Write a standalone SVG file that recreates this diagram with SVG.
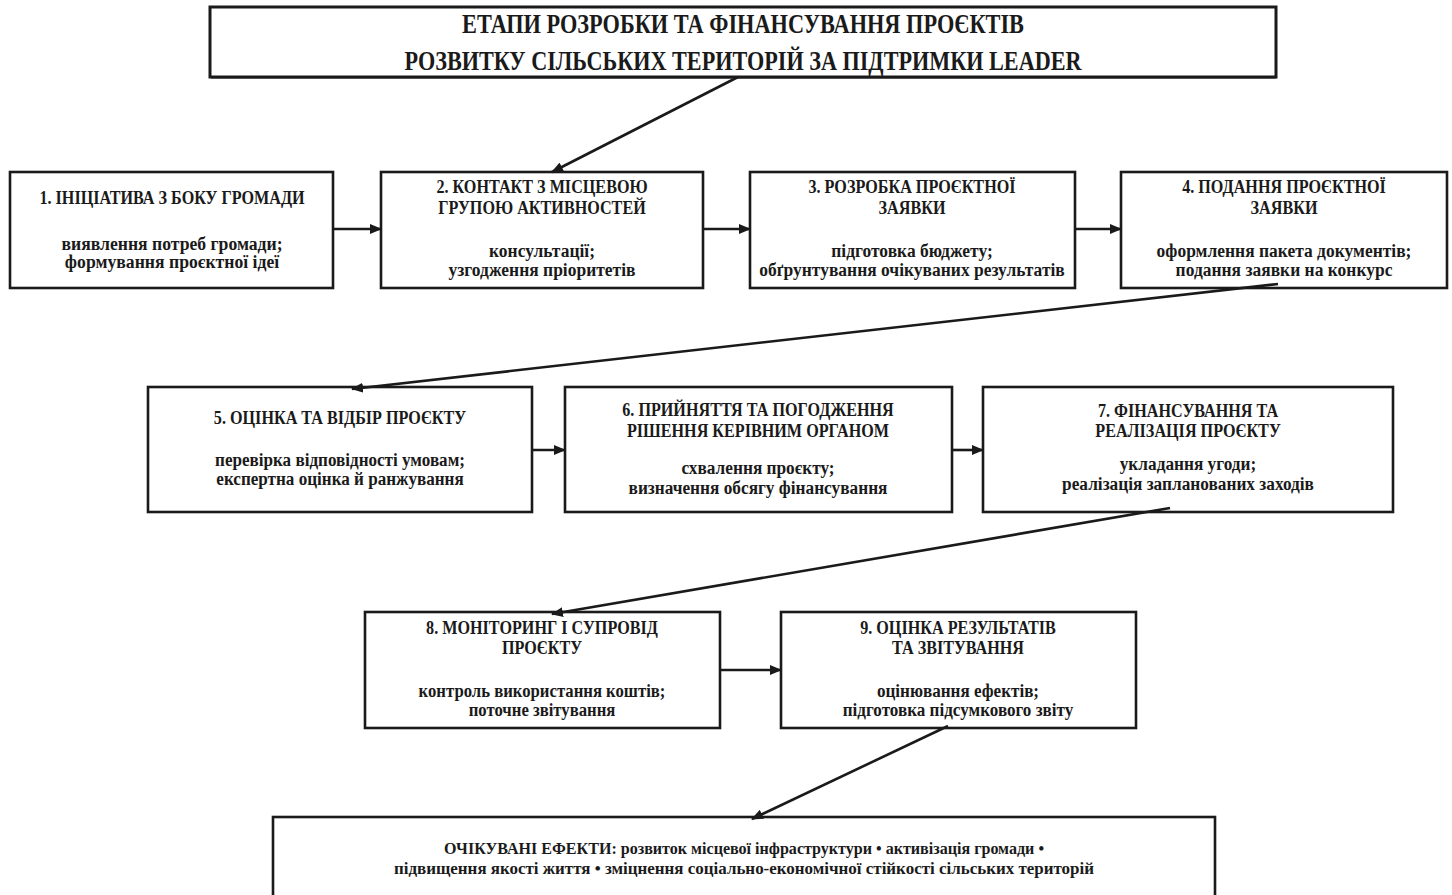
<svg xmlns="http://www.w3.org/2000/svg" width="1452" height="895" viewBox="0 0 1452 895">
<style>
text{font-family:"Liberation Serif","Times New Roman",serif;font-weight:bold;fill:#1a1a1a;text-anchor:middle}
.t{font-size:28px}
.h{font-size:19px}
.b{font-size:19px}
.e{font-size:17px}
.box{fill:#fff;stroke:#1a1a1a;stroke-width:2.6}
.c{stroke:#1a1a1a;stroke-width:2.6;fill:none}
</style>
<defs>
<marker id="ah" markerUnits="userSpaceOnUse" markerWidth="12" markerHeight="10" refX="11" refY="5" orient="auto">
<path d="M0,0 L12,5 L0,10 Z" fill="#1a1a1a"/>
</marker>
</defs>
<rect width="1452" height="895" fill="#fff"/>

<g id="title">
<rect class="box" x="210" y="7" width="1066" height="70" style="stroke-width:3"/>
<line x1="211" y1="77.5" x2="1276" y2="77.5" stroke="#1a1a1a" stroke-width="2"/>
<text class="t" x="743" y="33" textLength="562" lengthAdjust="spacingAndGlyphs">ЕТАПИ РОЗРОБКИ ТА ФІНАНСУВАННЯ ПРОЄКТІВ</text>
<text class="t" x="743" y="70" textLength="677" lengthAdjust="spacingAndGlyphs">РОЗВИТКУ СІЛЬСЬКИХ ТЕРИТОРІЙ ЗА ПІДТРИМКИ LEADER</text>
</g>

<g id="n1">
<rect class="box" x="10" y="172" width="323" height="116"/>
<text class="h" transform="translate(172,204) scale(0.85,1)">1. ІНІЦІАТИВА З БОКУ ГРОМАДИ</text>
<text class="b" transform="translate(172,250) scale(0.93,1)">виявлення потреб громади;</text>
<text class="b" transform="translate(172,268) scale(0.93,1)">формування проєктної ідеї</text>
</g>

<g id="n2">
<rect class="box" x="381" y="172" width="322" height="116"/>
<text class="h" transform="translate(542,193) scale(0.85,1)">2. КОНТАКТ З МІСЦЕВОЮ</text>
<text class="h" transform="translate(542,214) scale(0.85,1)">ГРУПОЮ АКТИВНОСТЕЙ</text>
<text class="b" transform="translate(542,257) scale(0.92,1)">консультації;</text>
<text class="b" transform="translate(542,276) scale(0.92,1)">узгодження пріоритетів</text>
</g>

<g id="n3">
<rect class="box" x="750" y="172" width="325" height="116"/>
<text class="h" transform="translate(912,193) scale(0.85,1)">3. РОЗРОБКА ПРОЄКТНОЇ</text>
<text class="h" transform="translate(912,214) scale(0.85,1)">ЗАЯВКИ</text>
<text class="b" transform="translate(912,257) scale(0.92,1)">підготовка бюджету;</text>
<text class="b" transform="translate(912,276) scale(0.92,1)">обґрунтування очікуваних результатів</text>
</g>

<g id="n4">
<rect class="box" x="1121" y="172" width="326" height="116"/>
<text class="h" transform="translate(1284,193) scale(0.85,1)">4. ПОДАННЯ ПРОЄКТНОЇ</text>
<text class="h" transform="translate(1284,214) scale(0.85,1)">ЗАЯВКИ</text>
<text class="b" transform="translate(1284,257) scale(0.92,1)">оформлення пакета документів;</text>
<text class="b" transform="translate(1284,276) scale(0.92,1)">подання заявки на конкурс</text>
</g>

<g id="n5">
<rect class="box" x="148" y="387" width="384" height="125"/>
<text class="h" transform="translate(340,424) scale(0.85,1)">5. ОЦІНКА ТА ВІДБІР ПРОЄКТУ</text>
<text class="b" transform="translate(340,466) scale(0.9,1)">перевірка відповідності умовам;</text>
<text class="b" transform="translate(340,485) scale(0.9,1)">експертна оцінка й ранжування</text>
</g>

<g id="n6">
<rect class="box" x="565" y="387" width="387" height="125"/>
<text class="h" transform="translate(758,416) scale(0.85,1)">6. ПРИЙНЯТТЯ ТА ПОГОДЖЕННЯ</text>
<text class="h" transform="translate(758,437) scale(0.85,1)">РІШЕННЯ КЕРІВНИМ ОРГАНОМ</text>
<text class="b" transform="translate(758,474) scale(0.91,1)">схвалення проєкту;</text>
<text class="b" transform="translate(758,494) scale(0.91,1)">визначення обсягу фінансування</text>
</g>

<g id="n7">
<rect class="box" x="983" y="387" width="410" height="125"/>
<text class="h" transform="translate(1188,417) scale(0.85,1)">7. ФІНАНСУВАННЯ ТА</text>
<text class="h" transform="translate(1188,437) scale(0.85,1)">РЕАЛІЗАЦІЯ ПРОЄКТУ</text>
<text class="b" transform="translate(1188,470) scale(0.91,1)">укладання угоди;</text>
<text class="b" transform="translate(1188,490) scale(0.91,1)">реалізація запланованих заходів</text>
</g>

<g id="n8">
<rect class="box" x="365" y="612" width="355" height="116"/>
<text class="h" transform="translate(542,634) scale(0.85,1)">8. МОНІТОРИНГ І СУПРОВІД</text>
<text class="h" transform="translate(542,654) scale(0.85,1)">ПРОЄКТУ</text>
<text class="b" transform="translate(542,697) scale(0.88,1)">контроль використання коштів;</text>
<text class="b" transform="translate(542,716) scale(0.88,1)">поточне звітування</text>
</g>

<g id="n9">
<rect class="box" x="781" y="612" width="355" height="116"/>
<text class="h" transform="translate(958,634) scale(0.85,1)">9. ОЦІНКА РЕЗУЛЬТАТІВ</text>
<text class="h" transform="translate(958,654) scale(0.85,1)">ТА ЗВІТУВАННЯ</text>
<text class="b" transform="translate(958,697) scale(0.9,1)">оцінювання ефектів;</text>
<text class="b" transform="translate(958,716) scale(0.9,1)">підготовка підсумкового звіту</text>
</g>

<g id="effects">
<rect class="box" x="273" y="817" width="942" height="100"/>
<text class="e" x="744" y="854" textLength="600" lengthAdjust="spacingAndGlyphs">ОЧІКУВАНІ ЕФЕКТИ: розвиток місцевої інфраструктури • активізація громади •</text>
<text class="e" x="744" y="874" textLength="700" lengthAdjust="spacingAndGlyphs">підвищення якості життя • зміцнення соціально-економічної стійкості сільських територій</text>
</g>

<g id="connectors">
<line class="c" x1="738" y1="77" x2="552" y2="172" marker-end="url(#ah)"/>
<line class="c" x1="333" y1="229" x2="381" y2="229" marker-end="url(#ah)"/>
<line class="c" x1="703" y1="229" x2="750" y2="229" marker-end="url(#ah)"/>
<line class="c" x1="1075" y1="229" x2="1121" y2="229" marker-end="url(#ah)"/>
<line class="c" x1="1278" y1="284" x2="352" y2="389" marker-end="url(#ah)"/>
<line class="c" x1="532" y1="450" x2="565" y2="450" marker-end="url(#ah)"/>
<line class="c" x1="952" y1="450" x2="983" y2="450" marker-end="url(#ah)"/>
<line class="c" x1="1170" y1="508" x2="552" y2="614" marker-end="url(#ah)"/>
<line class="c" x1="720" y1="670" x2="781" y2="670" marker-end="url(#ah)"/>
<line class="c" x1="948" y1="726" x2="752" y2="819" marker-end="url(#ah)"/>
</g>
</svg>
